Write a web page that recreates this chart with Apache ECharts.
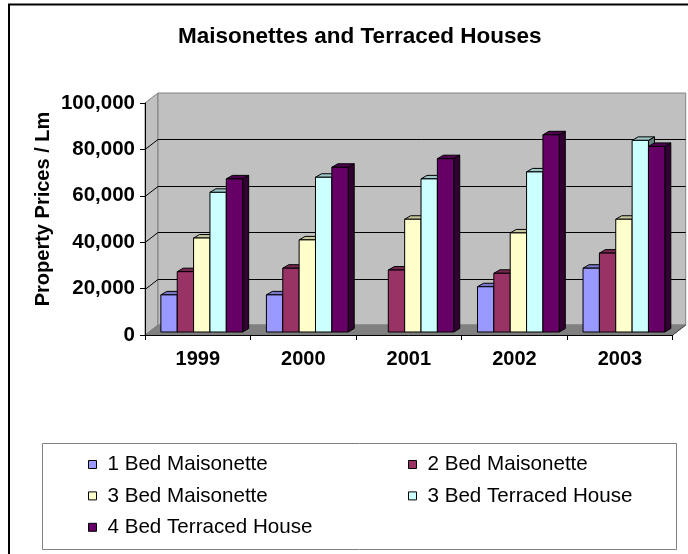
<!DOCTYPE html>
<html>
<head>
<meta charset="utf-8">
<title>Maisonettes and Terraced Houses</title>
<script src="https://cdn.jsdelivr.net/npm/echarts@6/dist/echarts.min.js"></script>
<style>
  html, body { margin: 0; padding: 0; background: #ffffff; }
  #chart { width: 688px; height: 554px; }
</style>
</head>
<body>
<div id="chart"></div>
<script>
// ---- data ----
const years = ['1999', '2000', '2001', '2002', '2003'];
const seriesNames = ['1 Bed Maisonette', '2 Bed Maisonette', '3 Bed Maisonette', '3 Bed Terraced House', '4 Bed Terraced House'];
const oneBedMaisonette = [16000, 16000, null, 19500, 27500];
const twoBedMaisonette = [26000, 27500, 26700, 25300, 34000];
const threeBedMaisonette = [40500, 39700, 48600, 42700, 48600];
const threeBedTerraced = [60200, 66700, 66000, 69000, 82600];
const fourBedTerraced = [66000, 71000, 74700, 85000, 80000];
const yTickValues = [0, 20000, 40000, 60000, 80000, 100000];

const seriesValues = [oneBedMaisonette, twoBedMaisonette, threeBedMaisonette, threeBedTerraced, fourBedTerraced];
const seriesColors = ['#9999FF', '#993366', '#FFFFCC', '#CCFFFF', '#660066'];

// ---- 3D look ----
const WALL_DX = 13, WALL_DY = -10;   // depth of the back wall
const PLANE_DX = 4, PLANE_DY = -3;   // front plane of the columns
const BAR_DX = 6, BAR_DY = -3.5;     // column depth
const BAR_FRAC = 0.155;              // column width as a share of a category

function shade(hex, k) {
  const n = parseInt(hex.slice(1), 16);
  const r = Math.round(((n >> 16) & 255) * k);
  const g = Math.round(((n >> 8) & 255) * k);
  const b = Math.round((n & 255) * k);
  return 'rgb(' + r + ',' + g + ',' + b + ')';
}

// walls, floor and gridlines of the 3D plot box
function renderFrame(params, api) {
  const cs = params.coordSys;
  const L = cs.x, R = cs.x + cs.width;
  const yOf = v => api.coord([0, v])[1];
  const yMin = yOf(yTickValues[0]);
  const yMax = yOf(yTickValues[yTickValues.length - 1]);
  const children = [];
  children.push({
    type: 'polygon',
    shape: { points: [[L, yMax], [L + WALL_DX, yMax + WALL_DY], [L + WALL_DX, yMin + WALL_DY], [L, yMin]] },
    style: { fill: '#C0C0C0', stroke: '#808080', lineWidth: 1 }
  });
  children.push({
    type: 'rect',
    shape: { x: L + WALL_DX, y: yMax + WALL_DY, width: R - L, height: yMin - yMax },
    style: { fill: '#C0C0C0', stroke: '#808080', lineWidth: 1 }
  });
  children.push({
    type: 'polygon',
    shape: { points: [[L, yMin], [L + WALL_DX, yMin + WALL_DY], [R + WALL_DX, yMin + WALL_DY], [R, yMin]] },
    style: { fill: '#808080', stroke: '#808080', lineWidth: 1 }
  });
  children.push({
    type: 'line',
    shape: { x1: R, y1: yMin, x2: R + WALL_DX, y2: yMin + WALL_DY },
    style: { stroke: '#404040', lineWidth: 1 }
  });
  yTickValues.slice(1, -1).forEach(v => {
    const y = Math.round(yOf(v)) + 0.5;
    children.push({
      type: 'line',
      shape: { x1: L + WALL_DX, y1: y + WALL_DY, x2: R + WALL_DX, y2: y + WALL_DY },
      style: { stroke: '#000000', lineWidth: 1 }
    });
    children.push({
      type: 'line',
      shape: { x1: L, y1: y, x2: L + WALL_DX, y2: y + WALL_DY },
      style: { stroke: '#000000', lineWidth: 1 }
    });
  });
  return { type: 'group', children: children };
}

// one 3D column: front face, top face and right side face
function makeColumnRenderer(sIdx) {
  return function (params, api) {
    const v = api.value(1);
    if (v == null || isNaN(v)) return;
    const cat = api.value(0);
    const top = api.coord([cat, v]);
    const base = api.coord([cat, 0]);
    const bw = api.size([1, 0])[0] * BAR_FRAC;
    const x0 = top[0] + PLANE_DX + (sIdx - 2.5) * bw;
    const x1 = x0 + bw;
    const yT = top[1] + PLANE_DY;
    const yB = base[1] + PLANE_DY;
    const c = seriesColors[sIdx];
    return {
      type: 'group',
      children: [
        {
          type: 'polygon',
          shape: { points: [[x1, yT], [x1 + BAR_DX, yT + BAR_DY], [x1 + BAR_DX, yB + BAR_DY], [x1, yB]] },
          style: { fill: shade(c, 0.5), stroke: '#000', lineWidth: 1 }
        },
        {
          type: 'polygon',
          shape: { points: [[x0, yT], [x0 + BAR_DX, yT + BAR_DY], [x1 + BAR_DX, yT + BAR_DY], [x1, yT]] },
          style: { fill: shade(c, 0.78), stroke: '#000', lineWidth: 1 }
        },
        {
          type: 'rect',
          shape: { x: x0, y: yT, width: bw, height: yB - yT },
          style: { fill: c, stroke: '#000', lineWidth: 1 }
        }
      ]
    };
  };
}

const FONT = '"Liberation Sans", Arial, sans-serif';

const series = [{
  type: 'custom',
  name: 'frame',
  z: 1,
  silent: true,
  renderItem: renderFrame,
  data: [[0, 0]]
}];
seriesValues.forEach((vals, i) => {
  series.push({
    type: 'custom',
    name: seriesNames[i],
    z: 2,
    itemStyle: { color: seriesColors[i] },
    renderItem: makeColumnRenderer(i),
    data: vals.map((v, j) => [j, v])
  });
});

const legendBase = {
  orient: 'vertical',
  padding: 0,
  itemWidth: 8,
  itemHeight: 8,
  itemGap: 10.4,
  icon: 'rect',
  selectedMode: false,
  itemStyle: { borderColor: '#000000', borderWidth: 1 },
  textStyle: { fontFamily: FONT, fontSize: 20.6, color: '#000000', lineHeight: 20, padding: [0, 0, 0, 6] }
};

const option = {
  animation: false,
  backgroundColor: '#ffffff',
  title: {
    text: 'Maisonettes and Terraced Houses',
    left: 178,
    top: 25,
    padding: 0,
    textStyle: { fontFamily: FONT, fontSize: 22.5, fontWeight: 'bold', color: '#000000' }
  },
  grid: { left: 145, right: 15.3, top: 103, bottom: 219, containLabel: false, outerBoundsMode: 'none' },
  xAxis: {
    type: 'category',
    data: years,
    z: 10,
    boundaryGap: true,
    axisLine: { show: true, lineStyle: { color: '#000000', width: 1 } },
    axisTick: { show: true, length: 5, lineStyle: { color: '#000000' } },
    axisLabel: { margin: 14, fontFamily: FONT, fontSize: 20, fontWeight: 'bold', color: '#000000' },
    splitLine: { show: false }
  },
  yAxis: {
    type: 'value',
    min: yTickValues[0],
    max: yTickValues[yTickValues.length - 1],
    interval: yTickValues[1] - yTickValues[0],
    z: 10,
    name: 'Property Prices / Lm',
    nameLocation: 'middle',
    nameRotate: 90,
    nameGap: 92,
    nameMoveOverlap: false,
    nameTextStyle: { fontFamily: FONT, fontSize: 20, fontWeight: 'bold', color: '#000000', padding: [0, 0, 0, 20] },
    axisLine: { show: true, lineStyle: { color: '#000000', width: 1 } },
    axisTick: { show: true, length: 5, lineStyle: { color: '#000000' } },
    axisLabel: {
      margin: 10, fontFamily: FONT, fontSize: 20.5, fontWeight: 'bold', color: '#000000',
      formatter: v => v.toLocaleString('en-US')
    },
    splitLine: { show: false }
  },
  legend: [
    Object.assign({}, legendBase, { left: 88, top: 454, data: [seriesNames[0], seriesNames[2], seriesNames[4]] }),
    Object.assign({}, legendBase, { left: 408, top: 454, data: [seriesNames[1], seriesNames[3]] })
  ],
  graphic: [
    {
      type: 'rect', silent: true, z: -1,
      shape: { x: 9, y: 4.5, width: 720, height: 600 },
      style: { fill: 'none', stroke: '#000000', lineWidth: 2 }
    },
    {
      type: 'rect', silent: true, z: -1,
      shape: { x: 42.5, y: 443.5, width: 634, height: 106 },
      style: { fill: 'none', stroke: '#808080', lineWidth: 1 }
    }
  ],
  series: series
};

const chart = echarts.init(document.getElementById('chart'), null, { renderer: 'canvas' });
chart.setOption(option);
</script>
</body>
</html>
